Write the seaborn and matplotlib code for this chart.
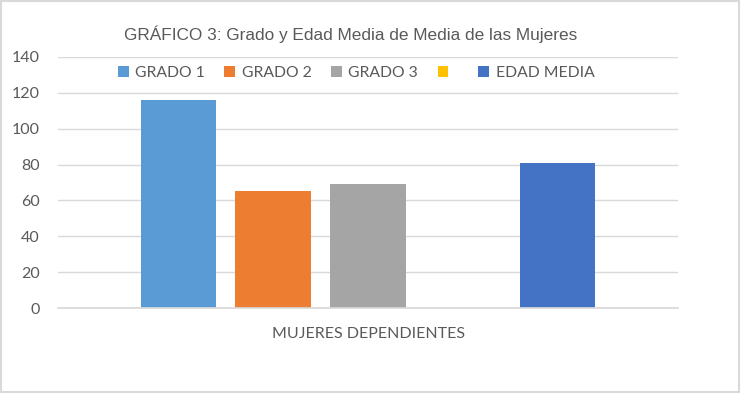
import pandas as pd
import matplotlib.pyplot as plt
import seaborn as sns
from matplotlib.patches import Rectangle

# datos del gráfico
categoria = "MUJERES DEPENDIENTES"
series = ["GRADO 1", "GRADO 2", "GRADO 3", " ", "EDAD MEDIA"]
valores = [116, 65, 69, 0, 81]
colores = ["#5B9BD5", "#ED7D31", "#A5A5A5", "#FFC000", "#4472C4"]

df = pd.DataFrame({"grupo": [categoria] * len(series), "serie": series, "valor": valores})

sns.set_theme(style="white")
plt.rcParams["font.family"] = ["Lato", "DejaVu Sans"]
gris = "#595959"

fig = plt.figure(figsize=(7.41, 3.93), dpi=100)
ax = fig.add_axes([58 / 741, 1 - 308 / 393, 620 / 741, 251 / 393])

sns.barplot(
    data=df, x="grupo", y="valor", hue="serie", hue_order=series,
    palette=dict(zip(series, colores)), width=0.766, gap=0.21,
    linewidth=0, saturation=1, ax=ax,
)

ax.set_xlim(-0.5, 0.5)
ax.set_ylim(0, 140)
ax.set_yticks(range(0, 141, 20))
ax.yaxis.grid(True, color="#D9D9D9", linewidth=1)
ax.set_axisbelow(True)
for s in ["top", "right", "left"]:
    ax.spines[s].set_visible(False)
ax.spines["bottom"].set_color("#D9D9D9")
ax.tick_params(axis="y", length=0, pad=13, labelsize=11.5, labelcolor=gris)
ax.tick_params(axis="x", length=0, pad=14, labelsize=11.5, labelcolor=gris)
ax.set_xlabel("")
ax.set_ylabel("")

sns.move_legend(
    ax, "center", bbox_to_anchor=((356 - 58) / 620, (308 - 73) / 251),
    ncol=5, frameon=False, title=None, fontsize=11.3,
    handlelength=0.7, handleheight=0.7, handletextpad=0.4, columnspacing=1.25,
)
for t in ax.get_legend().get_texts():
    t.set_color(gris)

fig.text(351 / 741, 1 - 34 / 393, "GRÁFICO 3: Grado y Edad Media de Media de las Mujeres",
         ha="center", va="center", fontsize=12.4, color=gris,
         family=["Liberation Sans", "DejaVu Sans"])

# borde del área del gráfico
fig.patches.append(Rectangle((0.002, 0.003), 0.995, 0.994, transform=fig.transFigure,
                             fill=False, edgecolor="#D9D9D9", linewidth=1.5))

fig.savefig("out.png", dpi=100)
